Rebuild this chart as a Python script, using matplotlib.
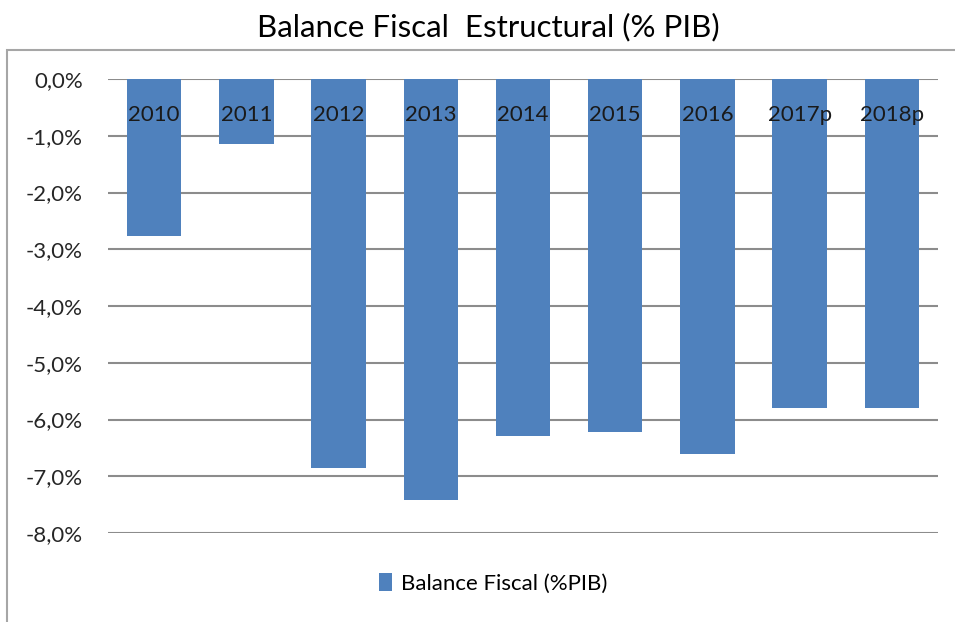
import matplotlib.pyplot as plt
from matplotlib.patches import Rectangle
from matplotlib.ticker import FuncFormatter

# Datos
years = ['2010', '2011', '2012', '2013', '2014', '2015', '2016', '2017p', '2018p']
balance = [-2.76, -1.14, -6.85, -7.42, -6.29, -6.22, -6.61, -5.80, -5.80]
y_ticks = [0, -1, -2, -3, -4, -5, -6, -7, -8]

plt.rcParams['font.family'] = ['Lato', 'DejaVu Sans']

fig = plt.figure(figsize=(9.55, 6.22), dpi=100)
fig.patch.set_facecolor('white')

# Marco del grafico
fig.patches.append(Rectangle((7 / 955, -0.05), 1.0, 1 - 50 / 622 + 0.05,
                             transform=fig.transFigure, fill=False,
                             edgecolor='#a6a6a6', linewidth=1.5))

fig.text(488 / 955, 1 - 27 / 622, 'Balance Fiscal  Estructural (% PIB)',
         ha='center', va='center', fontsize=22.5, color='black')

ax = fig.add_axes([108 / 955, 1 - 533 / 622, 830 / 955, 454 / 622])
x = range(len(years))
bars = ax.bar(x, balance, width=0.59, color='#4f81bd', zorder=2,
              label='Balance Fiscal (%PIB)')

# lineas de la cuadricula detras de las barras
for t in y_ticks:
    ax.axhline(t, color='#8c8c8c', linewidth=1.5, zorder=1)

# etiquetas de los ejes por encima de las barras
ax.set_axisbelow(False)

ax.set_xlim(-0.5, len(years) - 0.5)
ax.set_ylim(-8, 0)
ax.set_yticks(y_ticks)
ax.yaxis.set_major_formatter(FuncFormatter(lambda v, p: f'{v:.1f}%'.replace('.', ',')))

ax.set_xticks(list(x))
ax.set_xticklabels(years)
ax.tick_params(axis='x', top=False, labeltop=True, bottom=False, labelbottom=False,
               length=0, pad=-33, labelsize=16, labelcolor='#1a1a1a')
ax.tick_params(axis='y', length=0, pad=18, labelsize=16, labelcolor='#262626')

for s in ax.spines.values():
    s.set_visible(False)

fig.legend(handles=[bars], labels=['Balance Fiscal (%PIB)'], loc='center',
           bbox_to_anchor=(493 / 955, 1 - 583 / 622), frameon=False,
           fontsize=16, handlelength=0.6, handleheight=0.9, handletextpad=0.4)

plt.savefig('out.png', dpi=100)
plt.close()
